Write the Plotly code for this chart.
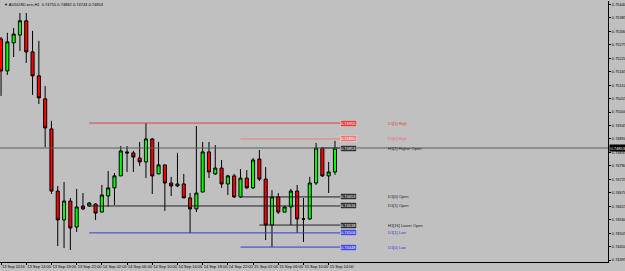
import plotly.graph_objects as go
import pandas as pd

# ---------------- data ----------------
TIMES = pd.date_range("2016-09-13 10:00", periods=54, freq="h")

OPEN = [0.75299, 0.75168, 0.75283, 0.75315, 0.75373, 0.75246, 0.75148, 0.75054, 0.74931, 0.74677,
        0.74559, 0.74636, 0.74530, 0.74616, 0.74616, 0.74624, 0.74591, 0.74657, 0.74690, 0.74739,
        0.74837, 0.74833, 0.74812, 0.74796, 0.74890, 0.74747, 0.74784, 0.74710, 0.74698, 0.74706,
        0.74649, 0.74604, 0.74673, 0.74837, 0.74747, 0.74771, 0.74706, 0.74739, 0.74653, 0.74730,
        0.74690, 0.74808, 0.74726, 0.74538, 0.74653, 0.74591, 0.74612, 0.74677, 0.74563, 0.74563,
        0.74710, 0.74853, 0.74739, 0.74755]
HIGH = [0.75307, 0.75324, 0.75344, 0.75405, 0.75405, 0.75332, 0.75291, 0.75107, 0.74964, 0.74698,
        0.74714, 0.74649, 0.74686, 0.74669, 0.74632, 0.74628, 0.74702, 0.74759, 0.74751, 0.74861,
        0.74861, 0.74841, 0.74878, 0.74955, 0.74894, 0.74878, 0.74784, 0.74735, 0.74833, 0.74747,
        0.74669, 0.74943, 0.74878, 0.74878, 0.74865, 0.74804, 0.74743, 0.74747, 0.74767, 0.74763,
        0.74812, 0.74845, 0.74775, 0.74681, 0.74669, 0.74616, 0.74686, 0.74702, 0.74649, 0.74735,
        0.74874, 0.74857, 0.74796, 0.74882]
LOW = [0.75066, 0.75152, 0.75225, 0.75250, 0.75201, 0.75070, 0.75033, 0.74857, 0.74665, 0.74452,
       0.74444, 0.74436, 0.74510, 0.74600, 0.74612, 0.74559, 0.74591, 0.74612, 0.74620, 0.74739,
       0.74755, 0.74755, 0.74780, 0.74730, 0.74665, 0.74747, 0.74596, 0.74657, 0.74694, 0.74649,
       0.74506, 0.74591, 0.74673, 0.74730, 0.74743, 0.74690, 0.74661, 0.74649, 0.74649, 0.74686,
       0.74686, 0.74718, 0.74477, 0.74448, 0.74583, 0.74591, 0.74538, 0.74506, 0.74469, 0.74559,
       0.74702, 0.74735, 0.74669, 0.74743]
CLOSE = [0.75168, 0.75287, 0.75319, 0.75373, 0.75246, 0.75148, 0.75058, 0.74935, 0.74677, 0.74559,
         0.74636, 0.74526, 0.74612, 0.74604, 0.74628, 0.74587, 0.74661, 0.74690, 0.74739, 0.74841,
         0.74833, 0.74816, 0.74796, 0.74890, 0.74739, 0.74784, 0.74710, 0.74698, 0.74706, 0.74649,
         0.74604, 0.74669, 0.74837, 0.74755, 0.74771, 0.74706, 0.74739, 0.74653, 0.74730, 0.74690,
         0.74804, 0.74726, 0.74538, 0.74653, 0.74591, 0.74612, 0.74677, 0.74563, 0.74563, 0.74710,
         0.74853, 0.74739, 0.74755, 0.74853]

LEVEL_NAMES = ["D1[1] High", "D1[0] High", "H1[2] Higher Open", "D1[0] Open", "D1[1] Open",
               "H1[16] Lower Open", "D1[1] Low", "D1[0] Low"]
LEVEL_PRICES = [0.74955, 0.74890, 0.74853, 0.74653, 0.74616, 0.74538, 0.74506, 0.74448]
LEVEL_STARTS = ["2016-09-14 00:00", "2016-09-15 00:00", "2016-09-15 13:00", "2016-09-15 00:00",
                "2016-09-14 00:00", "2016-09-15 03:00", "2016-09-14 00:00", "2016-09-15 00:00"]

X_TICK_TIMES = ["2016-09-13 10:00", "2016-09-13 14:00", "2016-09-13 18:00", "2016-09-13 22:00",
                "2016-09-14 02:00", "2016-09-14 06:00", "2016-09-14 10:00", "2016-09-14 14:00",
                "2016-09-14 18:00", "2016-09-14 22:00", "2016-09-15 02:00", "2016-09-15 06:00",
                "2016-09-15 10:00", "2016-09-15 14:00"]
X_TICK_TEXT = ["13 Sep 2016", "13 Sep 14:00", "13 Sep 18:00", "13 Sep 22:00",
               "14 Sep 02:00", "14 Sep 06:00", "14 Sep 10:00", "14 Sep 14:00",
               "14 Sep 18:00", "14 Sep 22:00", "15 Sep 02:00", "15 Sep 06:00",
               "15 Sep 10:00", "15 Sep 14:00"]
Y_TICKS = [0.75440, 0.75385, 0.75330, 0.75275, 0.75220, 0.75165, 0.75110, 0.75055, 0.75000,
           0.74945, 0.74890, 0.74835, 0.74780, 0.74725, 0.74670, 0.74615, 0.74560, 0.74505,
           0.74450, 0.74395]

SYMBOL = "AUDUSD.ecn,H1"

# ---------------- styles ----------------
BG = "#C0C0C0"
FONT = "Liberation Sans"
LINE_COLORS = ["#D04545", "#EC7C7C", "#404040", "#202020", "#202020", "#202020", "#3A3AD0", "#3A3AD0"]
BOX_COLORS = ["#E04040", "#F07878", "#303030", "#303030", "#303030", "#303030", "#4545E0", "#4545E0"]
TEXT_COLORS = ["#E03C3C", "#F06464", "#202020", "#202020", "#202020", "#202020", "#3A3AD0", "#3A3AD0"]
LINE_END = "2016-09-15 15:48"
TEXT_X = "2016-09-15 23:05"
X_RANGE = ["2016-09-13 09:50", "2016-09-17 10:20"]
Y_RANGE = [0.74387, 0.75454]

fig = go.Figure()

fig.add_trace(go.Candlestick(
    x=TIMES, open=OPEN, high=HIGH, low=LOW, close=CLOSE,
    increasing=dict(fillcolor="#00FF00", line=dict(color="#000000", width=1)),
    decreasing=dict(fillcolor="#FF0000", line=dict(color="#000000", width=1)),
    whiskerwidth=0, showlegend=False, hoverinfo="skip",
))

shapes = []
annotations = []

# bid line (full width)
shapes.append(dict(type="line", xref="paper", yref="y", x0=0, x1=1,
                   y0=CLOSE[-1], y1=CLOSE[-1], line=dict(color="#5A5A5A", width=1), layer="above"))

for name, price, start, lc, bc, tc in zip(LEVEL_NAMES, LEVEL_PRICES, LEVEL_STARTS,
                                         LINE_COLORS, BOX_COLORS, TEXT_COLORS):
    shapes.append(dict(type="line", xref="x", yref="y", x0=start, x1=LINE_END,
                       y0=price, y1=price, line=dict(color=lc, width=1), layer="above"))
    annotations.append(dict(x=LINE_END, y=price, xref="x", yref="y", xanchor="left", yanchor="middle",
                            text=f"{price:.5f}", showarrow=False,
                            font=dict(family=FONT, size=4, color="#FFFFFF"),
                            bgcolor=bc, bordercolor="#E8E8E8", borderwidth=0.5, borderpad=0.5))
    annotations.append(dict(x=TEXT_X, y=price, xref="x", yref="y", xanchor="left", yanchor="middle",
                            text=name, showarrow=False,
                            font=dict(family=FONT, size=4, color=tc)))

# current price label on price scale
annotations.append(dict(x=1, y=CLOSE[-1], xref="paper", yref="y", xanchor="left", yanchor="middle",
                        text=f"{CLOSE[-1]:.5f}", showarrow=False, xshift=1,
                        font=dict(family=FONT, size=4, color="#FFFFFF"),
                        bgcolor="#000000", borderpad=0.5))

# title
title_text = "▼ {}  {:.5f} {:.5f} {:.5f} {:.5f}".format(SYMBOL, OPEN[-1], HIGH[-1], LOW[-1], CLOSE[-1])
annotations.append(dict(x=0.004, y=0.988, xref="paper", yref="paper", xanchor="left", yanchor="middle",
                        text=title_text, showarrow=False,
                        font=dict(family=FONT, size=4, color="#000000")))

fig.update_layout(
    width=625, height=271,
    margin=dict(l=0, r=17, t=1, b=9, pad=0),
    paper_bgcolor=BG, plot_bgcolor=BG,
    showlegend=False,
    shapes=shapes, annotations=annotations,
    xaxis=dict(
        type="date", range=X_RANGE, rangeslider=dict(visible=False),
        tickvals=X_TICK_TIMES, ticktext=X_TICK_TEXT, tickangle=0,
        ticks="outside", ticklen=2, tickcolor="#000000", tickwidth=1,
        ticklabelposition="outside right",
        tickfont=dict(family=FONT, size=4, color="#000000"),
        showgrid=False, zeroline=False,
        showline=True, linecolor="#000000", linewidth=1,
        automargin=False, fixedrange=True,
    ),
    yaxis=dict(
        side="right", range=Y_RANGE,
        tickvals=Y_TICKS, ticktext=[f"{v:.5f}" for v in Y_TICKS],
        ticks="outside", ticklen=2, tickcolor="#000000", tickwidth=1,
        tickfont=dict(family=FONT, size=4, color="#000000"),
        showgrid=False, zeroline=False,
        showline=True, linecolor="#000000", linewidth=1,
        automargin=False, fixedrange=True,
    ),
)

fig.write_html("out.html")
